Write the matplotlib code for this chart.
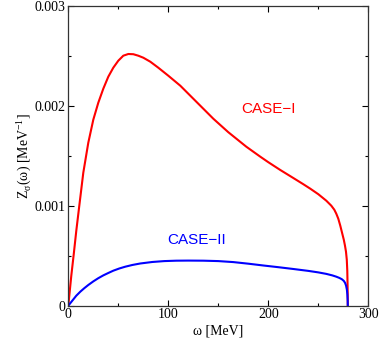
import numpy as np
import matplotlib
matplotlib.use("Agg")
import matplotlib.pyplot as plt
from matplotlib.ticker import MultipleLocator

plt.rcParams["font.family"] = "Liberation Serif"
plt.rcParams["mathtext.fontset"] = "custom"
plt.rcParams["mathtext.rm"] = "Liberation Serif"

# values
omega_I = [0, 3, 5.5, 8, 11, 15, 20, 25, 30, 35, 40, 45, 50, 55, 60, 65, 70, 75, 82,
           90, 100, 112, 125, 135, 145, 160, 178, 192, 200, 212, 225, 235, 242, 250,
           258, 263, 266, 268, 270, 272, 274, 275.5, 276.7, 277.7, 278.5, 279, 279.3,
           279.45, 279.5]
z_I = [0, 0.0003, 0.00052, 0.00075, 0.001, 0.00133, 0.00163, 0.00186, 0.00203,
       0.00217, 0.00229, 0.00238, 0.00245, 0.0025, 0.002517, 0.002515, 0.0025,
       0.00248, 0.00244, 0.00238, 0.0023, 0.0022, 0.00207, 0.00197, 0.00187,
       0.001735, 0.00159, 0.00149, 0.001435, 0.001357, 0.001277, 0.001215, 0.00117,
       0.001115, 0.00105, 0.001, 0.00096, 0.00092, 0.00087, 0.0008, 0.00072,
       0.00066, 0.0006, 0.00054, 0.00046, 0.00035, 0.0002, 0.00008, 0]

omega_II = [0, 4, 8, 12, 16, 20, 25, 30, 35, 40, 45, 51, 57, 64, 72, 84, 96, 108, 120,
            135, 150, 165, 180, 195, 210, 225, 240, 250, 258, 264, 268, 271, 273.5,
            275.5, 276.8, 277.8, 278.6, 279.1, 279.4, 279.5]
z_II = [0, 0.00005, 0.0001, 0.00014, 0.000175, 0.000207, 0.000243, 0.000275,
        0.000303, 0.000327, 0.00035, 0.000372, 0.00039, 0.000407, 0.000422, 0.000437,
        0.000446, 0.00045, 0.000451, 0.00045, 0.000446, 0.000436, 0.00042, 0.000402,
        0.000385, 0.000367, 0.000348, 0.000333, 0.000318, 0.000303, 0.00029,
        0.000278, 0.000265, 0.000248, 0.000228, 0.0002, 0.00016, 0.00011, 0.00005, 0]

fig = plt.figure(figsize=(3.82, 3.48), dpi=100)
ax = fig.add_axes([0.1788, 0.1216, 0.7853, 0.862])

ax.plot(omega_I, z_I, color="red", lw=1.5)
ax.plot(omega_II, z_II, color="blue", lw=1.5)

ax.text(200, 0.00197, "CASE\u2212I", color="red", fontsize=11,
        family="Liberation Sans", ha="center", va="center")
ax.text(128, 0.00066, "CASE\u2212II", color="blue", fontsize=11,
        family="Liberation Sans", ha="center", va="center")

ax.set_xlim(0, 300)
ax.set_ylim(0, 0.003)
ax.xaxis.set_minor_locator(MultipleLocator(50))
ax.yaxis.set_minor_locator(MultipleLocator(0.0005))
ax.set_xticks([0, 100, 200, 300])
ax.set_xticklabels(["0", "100", "200", "300"], fontsize=10)
ax.set_yticks([0, 0.001, 0.002, 0.003])
ax.set_yticklabels(["0", "0.001", "0.002", "0.003"], fontsize=10)
ax.tick_params(which="both", direction="in", top=True, right=True, width=0.8)
ax.tick_params(which="major", length=4, pad=2)
ax.tick_params(which="minor", length=2.5)
for s in ax.spines.values():
    s.set_linewidth(0.9)
    s.set_color("#333333")

ax.set_xlabel("\u03c9 [MeV]", fontsize=10, labelpad=2)
ax.set_ylabel("Z$_\\mathregular{\u03c3}$(\u03c9) [MeV$^\\mathregular{\u22121}$]",
              fontsize=10, labelpad=1)

fig.savefig("out.png", dpi=100)
